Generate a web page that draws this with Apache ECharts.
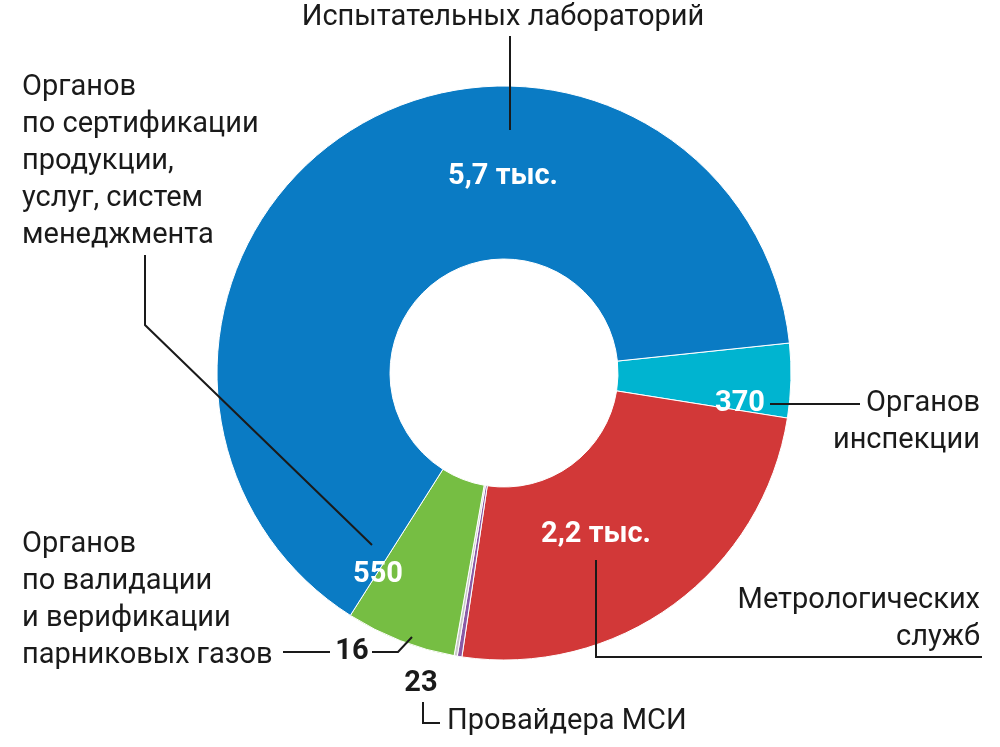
<!DOCTYPE html>
<html><head><meta charset="utf-8">
<script src="https://cdn.jsdelivr.net/npm/echarts@6/dist/echarts.min.js"></script>
<style>html,body{margin:0;background:#fff}#c{width:1000px;height:747px}</style>
</head><body><div id="c"></div>
<script>
// порядок по часовой стрелке от правого края
var names = ['Органов инспекции', 'Метрологических служб', 'Провайдера МСИ', 'Органов по валидации', 'Органов по сертификации', 'Испытательных лабораторий'];
var values = [370, 2200, 23, 16, 550, 5700];
var valueText = ['370', '2,2 тыс.', '23', '16', '550', '5,7 тыс.'];
var colors = ['#00b4d0', '#d23838', '#8a5aa6', '#c9c9c9', '#76be43', '#0a7bc4'];

var FONT = '"Liberation Sans Narrow", Roboto, sans-serif';
var chart = echarts.init(document.getElementById('c'));

function txt(x, y, s, opt) {
    opt = opt || {};
    var lines = s.split('\n').length;
    return { type: 'text', x: x, y: y - 18.5, z: 100, style: {
        text: s, fill: opt.fill || '#1a1a1a', font: (opt.bold ? 'bold ' : '') + (opt.size || 29) + 'px ' + FONT,
        textAlign: opt.align || 'left', textVerticalAlign: 'top', lineHeight: 37 } };
}
function line(pts) {
    return { type: 'polyline', z: 100, shape: { points: pts }, style: { stroke: '#1a1a1a', lineWidth: 2, fill: null } };
}

chart.setOption({
    animation: false,
    series: [{
        type: 'pie',
        center: [504, 373],
        radius: [114, 287],
        startAngle: 6,
        label: { show: false },
        labelLine: { show: false },
        itemStyle: { borderColor: '#fff', borderWidth: 1 },
        data: values.map(function (v, i) {
            return { value: v, name: names[i], itemStyle: { color: colors[i] } };
        })
    }],
    graphic: [
        txt(503, 18, 'Испытательных лабораторий', { align: 'center' }),
        line([[510, 36], [510, 130]]),
        txt(503, 177, valueText[5], { bold: true, fill: '#fff', align: 'center' }),

        txt(22, 88, 'Органов\nпо сертификации\nпродукции,\nуслуг, систем\nменеджмента'),
        line([[145, 255], [145, 325], [372, 545]]),
        txt(378, 575, valueText[4], { bold: true, fill: '#fff', align: 'center' }),

        txt(740, 404, valueText[0], { bold: true, fill: '#fff', align: 'center' }),
        line([[770, 404], [860, 404]]),
        txt(980, 404, 'Органов\nинспекции', { align: 'right' }),

        txt(596, 535, valueText[1], { bold: true, fill: '#fff', align: 'center' }),
        line([[596, 560], [596, 657], [982, 657]]),
        txt(980, 601, 'Метрологических\nслужб', { align: 'right' }),

        txt(22, 545, 'Органов\nпо валидации\nи верификации\nпарниковых газов'),
        line([[283, 652], [330, 652]]),
        txt(352, 652, valueText[3], { bold: true, align: 'center' }),
        line([[372, 652], [398, 652], [412, 637]]),

        txt(421, 684, valueText[2], { bold: true, align: 'center' }),
        line([[423, 702], [423, 723], [440, 723]]),
        txt(447, 722, 'Провайдера МСИ')
    ]
});
</script></body></html>
